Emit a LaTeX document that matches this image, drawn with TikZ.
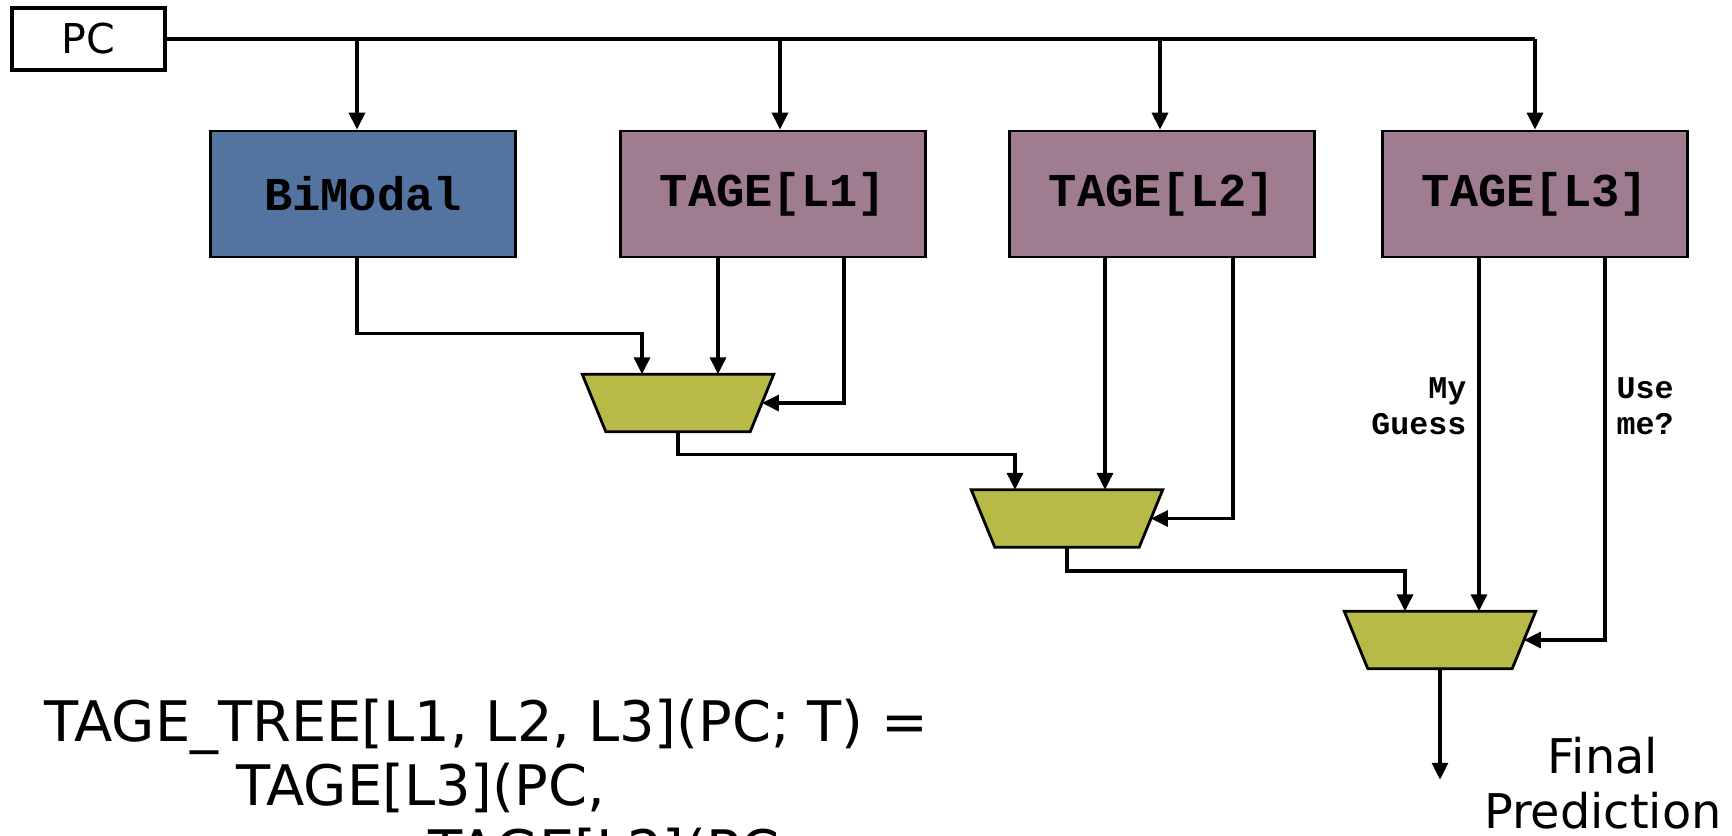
\documentclass[tikz,border=0pt]{standalone}
\usepackage{fontspec}
\setmainfont{DejaVu Sans}
\newfontfamily\codefont{Liberation Mono}
\usetikzlibrary{arrows.meta,calc}

\definecolor{bimodalBlue}{RGB}{83,116,160}
\definecolor{tageMauve}{RGB}{160,124,144}
\definecolor{muxOlive}{RGB}{183,186,70}

\def\boxWidth{30.5mm}
\def\boxHeight{12.6mm}
\def\muxWidth{19mm}
\def\muxHeight{5.6mm}
\def\muxSlant{23.5}

\tikzset{
  wire/.style={line width=1pt},
  feed/.style={wire, -{Triangle[length=4.8pt,width=4.5pt]}},
  tablebox/.style={draw, line width=0.8pt, minimum width=\boxWidth,
    minimum height=\boxHeight, inner sep=0pt,
    font=\codefont\bfseries\fontsize{13.4}{15}\selectfont},
  mux/.style={minimum width=\muxWidth, minimum height=\muxHeight, inner sep=0pt},
  hint/.style={font=\codefont\bfseries\fontsize{9}{10.4}\selectfont, inner sep=0pt},
  formula/.style={anchor=base west, inner sep=0pt,
    font=\fontsize{15.9}{18}\selectfont}
}

\begin{document}
\begin{tikzpicture}[x=0.1mm, y=-0.1mm]
            \clip (0,0) rectangle (1732,835);

            % PC and the predictor tables
            \node [draw, line width=1pt, minimum width=15.3mm, minimum height=6.2mm,
              inner sep=0pt, font=\fontsize{11.7}{14}\selectfont] (pc) at (88.5,39) {PC};
            \node [tablebox, fill=bimodalBlue] (bimodal) at (363,194) {BiModal};
            \node [tablebox, fill=tageMauve] (tage1) at (773,194) {TAGE[L1]};
            \node [tablebox, fill=tageMauve] (tage2) at (1162,194) {TAGE[L2]};
            \node [tablebox, fill=tageMauve] (tage3) at (1535,194) {TAGE[L3]};

            % muxes
            \node [mux] (mux1) at (678,403) {};
            \node [mux] (mux2) at (1067,518.5) {};
            \node [mux] (mux3) at (1440,640) {};
            \foreach \m in {mux1, mux2, mux3}
              \draw [line width=0.8pt, fill=muxOlive]
                (\m.north west) -- (\m.north east)
                -- ($(\m.south east)+(-\muxSlant,0)$)
                -- ($(\m.south west)+(\muxSlant,0)$) -- cycle;
            \coordinate (side1) at ($(mux1.east)+(-\muxSlant/2,0)$);
            \coordinate (side2) at ($(mux2.east)+(-\muxSlant/2,0)$);
            \coordinate (side3) at ($(mux3.east)+(-\muxSlant/2,0)$);

            % PC bus
            \draw [wire] (pc.east) -- (tage3.north |- pc.east);
            \foreach \t/\dx in {bimodal/-6, tage1/7, tage2/-2, tage3/0}
              \draw [feed] ($(\t.north |- pc.east)+(\dx,0)$) -- ($(\t.north)+(\dx,0)$);

            % first level
            \coordinate (m1a) at ($(mux1.north)+(-36,0)$);
            \coordinate (m1b) at ($(mux1.north)+(40,0)$);
            \draw [feed] ($(bimodal.south)+(-6,0)$) |- ($(m1a)+(0,-41)$) -- (m1a);
            \draw [feed] (m1b |- tage1.south) -- (m1b);
            \draw [feed] ($(tage1.south)+(71,0)$) |- (side1);

            % second level
            \coordinate (m2a) at ($(mux2.north)+(-52,0)$);
            \coordinate (m2b) at ($(mux2.north)+(38,0)$);
            \draw [feed] (mux1.south) |- ($(m2a)+(0,-35.5)$) -- (m2a);
            \draw [feed] (m2b |- tage2.south) -- (m2b);
            \draw [feed] ($(tage2.south)+(71,0)$) |- (side2);

            % third level
            \coordinate (m3a) at ($(mux3.north)+(-35,0)$);
            \coordinate (m3b) at ($(mux3.north)+(39,0)$);
            \draw [feed] (mux2.south) |- ($(m3a)+(0,-40.5)$) -- (m3a);
            \draw [feed] (m3b |- tage3.south) -- (m3b);
            \draw [feed] ($(tage3.south)+(70,0)$) |- (side3);
            \coordinate (final) at ($(mux3.south)+(0,111)$);
            \draw [feed] (mux3.south) -- (final);

            \node [hint, anchor=east, align=right] (guess) at (1467,406) {My\\Guess};
            \node [hint, anchor=west, align=left] (useme) at (1616,406) {Use\\me?};
            \node [align=center, inner sep=0pt, anchor=base,
              font=\fontsize{13.6}{15.6}\selectfont] (prediction) at (1603,828) {Final\\Prediction};

            % the recursive definition
            \node [formula] (tree) at (44,741) {TAGE\_TREE[L1, L2, L3](PC; T) =};
            \node [formula] (outer) at (236,805) {TAGE[L3](PC,};
            \node [formula] (inner) at (428,870) {TAGE[L2](PC,};
        \end{tikzpicture}
\end{document}
